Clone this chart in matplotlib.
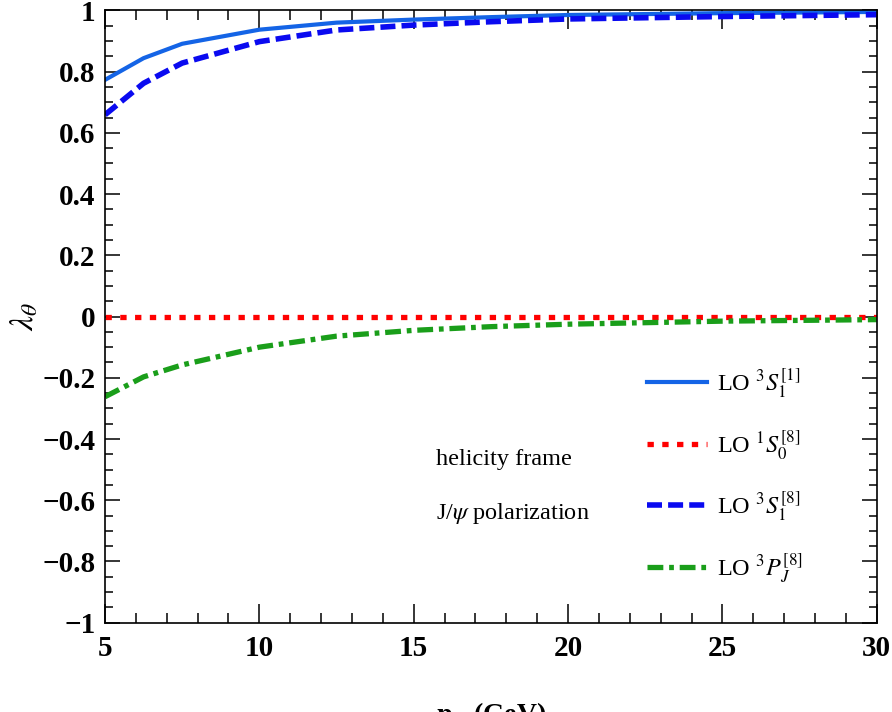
# J/psi polarization, helicity frame

import numpy as np
import matplotlib.pyplot as plt

plt.rcParams['font.family'] = 'serif'
plt.rcParams['font.serif'] = ['Liberation Serif', 'DejaVu Serif']
plt.rcParams['mathtext.fontset'] = 'stix'

# pT points (GeV)
pt = [5, 6.25, 7.5, 10, 12.5, 15, 17.5, 20, 25, 30]

# lambda_theta for each channel
lam_3S1_1 = [0.773, 0.844, 0.891, 0.937, 0.960, 0.970, 0.978, 0.985, 0.991, 0.995]
lam_1S0_8 = [0, 0, 0, 0, 0, 0, 0, 0, 0, 0]
lam_3S1_8 = [0.659, 0.762, 0.828, 0.898, 0.936, 0.952, 0.963, 0.972, 0.980, 0.986]
lam_3PJ_8 = [-0.262, -0.197, -0.158, -0.100, -0.064, -0.045, -0.033, -0.025, -0.015, -0.010]

labels = [r'LO $^{3}S_{1}^{[1]}$', r'LO $^{1}S_{0}^{[8]}$',
          r'LO $^{3}S_{1}^{[8]}$', r'LO $^{3}P_{J}^{[8]}$']

fig = plt.figure(figsize=(8.92, 7.12), dpi=100)
ax = fig.add_axes([0.1177, 0.1254, 0.9830 - 0.1177, 0.9854 - 0.1254])

ax.plot(pt, lam_3S1_1, color='#1464e6', lw=3.0, label=labels[0])
ax.plot(pt, lam_1S0_8, color='#ff0000', lw=3.8, dashes=[1.2, 1.6], label=labels[1])
ax.plot(pt, lam_3S1_8, color='#0a0af0', lw=4.0, dashes=[2.7, 1.1], label=labels[2])
ax.plot(pt, lam_3PJ_8, color='#1a9e1a', lw=3.8, dashes=[3.0, 1.1, 0.9, 1.1], label=labels[3])

ax.set_xlim(5, 30)
ax.set_ylim(-1, 1)
ax.set_xticks(np.arange(5, 31, 5))
ax.set_xticks(np.arange(5, 31, 1), minor=True)
ax.set_yticks(np.arange(-1, 1.01, 0.2))
ax.set_yticks(np.arange(-1, 1.01, 0.05), minor=True)
ax.set_yticklabels(['\u22121', '\u22120.8', '\u22120.6', '\u22120.4', '\u22120.2',
                    '0', '0.2', '0.4', '0.6', '0.8', '1'])

ax.tick_params(which='both', direction='in', top=True, right=True, width=1.1)
ax.tick_params(axis='x', which='major', length=14, pad=9)
ax.tick_params(axis='x', which='minor', length=7)
ax.tick_params(axis='y', which='major', length=11, pad=7)
ax.tick_params(axis='y', which='minor', length=5.5)
for lab in ax.get_xticklabels() + ax.get_yticklabels():
    lab.set_fontsize(21)
    lab.set_fontweight('bold')
for s in ax.spines.values():
    s.set_linewidth(1.2)

ax.set_ylabel(r'$\boldsymbol{\lambda_{\theta}}$', fontsize=24)
ax.yaxis.set_label_coords(-0.083, 0.5)
ax.set_xlabel(r'$\mathbf{p_T}$ (GeV)', fontsize=20, fontweight='bold', labelpad=27)

ax.text(0.429, 0.267, 'helicity frame', transform=ax.transAxes, fontsize=17.5, ha='left', va='center')
ax.text(0.429, 0.178, r'J/$\psi$ polarization', transform=ax.transAxes, fontsize=17.5, ha='left', va='center')

ax.legend(loc='upper left', bbox_to_anchor=(0.674, 0.455), frameon=False, fontsize=17.5,
          handlelength=2.45, handletextpad=0.42, labelspacing=1.15)

fig.savefig('out.png', dpi=100)
